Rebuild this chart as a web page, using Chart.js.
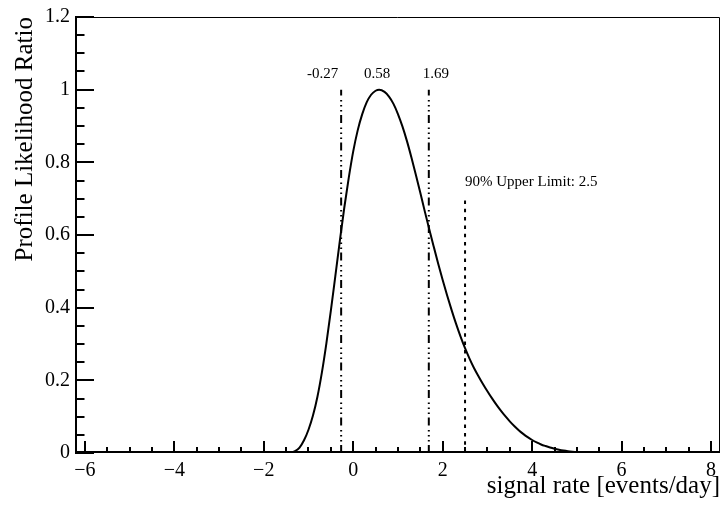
<!DOCTYPE html>
<html>
<head>
<meta charset="utf-8">
<script src="https://cdn.jsdelivr.net/npm/chart.js@4.4.1/dist/chart.umd.min.js"></script>
<style>
  html, body { margin: 0; padding: 0; background: #ffffff; }
  #wrap { width: 723px; height: 506px; }
</style>
</head>
<body>
<div id="wrap"><canvas id="plr" width="723" height="506"></canvas></div>
<script>
// Profile likelihood ratio scan versus signal rate
const signalRate = [
  -6.2, -4.0, -2.0, -1.5, -1.4, -1.3, -1.2, -1.1, -1.0, -0.9,
  -0.8, -0.7, -0.6, -0.5, -0.4, -0.3, -0.2, -0.1, 0.0, 0.1,
  0.2, 0.3, 0.4, 0.5, 0.58, 0.7, 0.8, 0.9, 1.0, 1.1,
  1.2, 1.3, 1.4, 1.5, 1.6, 1.7, 1.8, 1.9, 2.0, 2.1,
  2.2, 2.3, 2.4, 2.5, 2.6, 2.7, 2.8, 2.9, 3.0, 3.1,
  3.2, 3.3, 3.4, 3.5, 3.6, 3.7, 3.8, 3.9, 4.0, 4.1,
  4.2, 4.3, 4.4, 4.5, 4.6, 4.7, 4.8, 4.9, 5.0, 5.5,
  6.0, 6.5, 7.0, 8.2
];
const likelihoodRatio = [
  0, 0, 0, 0, 0.001, 0.005, 0.015, 0.035, 0.064, 0.103,
  0.155, 0.222, 0.302, 0.392, 0.487, 0.583, 0.675, 0.757, 0.830, 0.888,
  0.932, 0.965, 0.986, 0.997, 1.0, 0.994, 0.981, 0.961, 0.933, 0.899,
  0.859, 0.814, 0.766, 0.716, 0.665, 0.616, 0.568, 0.521, 0.476, 0.4335,
  0.3933, 0.3553, 0.3204, 0.2885, 0.2598, 0.2341, 0.2115, 0.1901, 0.1699, 0.1509,
  0.1331, 0.1165, 0.1012, 0.0872, 0.0744, 0.0629, 0.0527, 0.0437, 0.0358, 0.0291,
  0.0235, 0.0191, 0.0152, 0.0119, 0.0091, 0.0068, 0.0050, 0.0037, 0.0027, 0.0005,
  0.0001, 0, 0, 0
];

// Best fit and 1-sigma interval, plus the 90% upper limit
const intervalValues = [-0.27, 0.58, 1.69];
const intervalLabels = ["-0.27", "0.58", "1.69"];
const intervalLineTop = 1.0;
const upperLimitValue = 2.5;
const upperLimitTop = 0.7;
const upperLimitLabel = "90% Upper Limit: 2.5";

// Axes
const xRange = [-6.22, 8.2];
const yRange = [0, 1.2];
const xTickValues = [-6, -4, -2, 0, 2, 4, 6, 8];
const yTickValues = [0, 0.2, 0.4, 0.6, 0.8, 1, 1.2];
const xMinorStep = 0.5;
const yMinorStep = 0.05;
const xTitle = "signal rate [events/day]";
const yTitle = "Profile Likelihood Ratio";

const SERIF = "'Liberation Serif', 'Times New Roman', serif";

const curvePoints = signalRate.map((x, i) => ({ x: x, y: likelihoodRatio[i] }));
const lowerLine = [{ x: intervalValues[0], y: 0 }, { x: intervalValues[0], y: intervalLineTop }];
const upperLine = [{ x: intervalValues[2], y: 0 }, { x: intervalValues[2], y: intervalLineTop }];
const limitLine = [{ x: upperLimitValue, y: 0 }, { x: upperLimitValue, y: upperLimitTop }];

const dashDotDot = [8, 3.5, 1.5, 3.5, 1.5, 3.5, 1.5, 4.5];

function fmtTick(v) {
  const s = String(Math.round(v * 100) / 100);
  return v < 0 ? "\u2212" + s.slice(1) : s;
}

// Frame, inward tick marks and text annotations
const framePlugin = {
  id: "frameAndTicks",
  afterDatasetsDraw(chart) {
    const ctx = chart.ctx;
    const a = chart.chartArea;
    const xs = chart.scales.x, ys = chart.scales.y;
    ctx.save();
    ctx.strokeStyle = "#000";
    ctx.lineCap = "butt";

    // top and right border
    ctx.lineWidth = 1;
    ctx.beginPath();
    ctx.moveTo(a.left, a.top + 0.5);
    ctx.lineTo(a.right - 0.5, a.top + 0.5);
    ctx.lineTo(a.right - 0.5, a.bottom);
    ctx.stroke();

    // left and bottom axis lines
    ctx.lineWidth = 2;
    ctx.beginPath();
    ctx.moveTo(a.left + 1, a.top);
    ctx.lineTo(a.left + 1, a.bottom);
    ctx.moveTo(a.left, a.bottom - 1);
    ctx.lineTo(a.right, a.bottom - 1);
    ctx.stroke();

    // x ticks
    ctx.lineWidth = 2;
    ctx.beginPath();
    const xStart = Math.ceil(xRange[0] / xMinorStep) * xMinorStep;
    for (let k = 0; xStart + k * xMinorStep <= xRange[1] + 1e-9; k++) {
      const v = xStart + k * xMinorStep;
      const major = xTickValues.some(t => Math.abs(t - v) < 1e-6);
      const px = Math.round(xs.getPixelForValue(v));
      ctx.moveTo(px, a.bottom);
      ctx.lineTo(px, a.bottom - (major ? 12 : 6));
    }
    // y ticks
    for (let k = 0; k * yMinorStep <= yRange[1] + 1e-9; k++) {
      const v = yRange[0] + k * yMinorStep;
      const major = yTickValues.some(t => Math.abs(t - v) < 1e-6);
      const py = Math.round(ys.getPixelForValue(v));
      ctx.moveTo(a.left, py);
      ctx.lineTo(a.left + (major ? 19 : 9.5), py);
    }
    ctx.stroke();

    // annotation texts
    ctx.fillStyle = "#000";
    ctx.font = "15px " + SERIF;
    ctx.textBaseline = "alphabetic";
    const labelY = ys.getPixelForValue(intervalLineTop) - 12;
    const aligns = ["right", "center", "left"];
    const shifts = [-3, -2, -6];
    intervalValues.forEach((v, i) => {
      ctx.textAlign = aligns[i];
      ctx.fillText(intervalLabels[i], xs.getPixelForValue(v) + shifts[i], labelY);
    });
    ctx.textAlign = "left";
    ctx.fillText(upperLimitLabel, xs.getPixelForValue(upperLimitValue), ys.getPixelForValue(upperLimitTop) - 13);
    ctx.restore();
  }
};

new Chart(document.getElementById("plr"), {
  type: "line",
  data: {
    datasets: [
      { data: curvePoints, borderColor: "#000", borderWidth: 2, pointRadius: 0,
        cubicInterpolationMode: "monotone", fill: false },
      { data: lowerLine, borderColor: "#000", borderWidth: 2, pointRadius: 0,
        borderDash: dashDotDot, fill: false },
      { data: upperLine, borderColor: "#000", borderWidth: 2, pointRadius: 0,
        borderDash: dashDotDot, fill: false },
      { data: limitLine, borderColor: "#000", borderWidth: 2, pointRadius: 0,
        borderDash: [3.5, 4.8], fill: false }
    ]
  },
  options: {
    responsive: false,
    animation: false,
    devicePixelRatio: 1,
    layout: { padding: { top: 16, right: 3, bottom: 0, left: 0 } },
    plugins: { legend: { display: false }, tooltip: { enabled: false } },
    scales: {
      x: {
        type: "linear",
        min: xRange[0], max: xRange[1],
        grid: { display: false, drawTicks: false },
        border: { display: false },
        afterBuildTicks: s => { s.ticks = xTickValues.map(v => ({ value: v })); },
        afterFit: s => { s.height = 53; },
        ticks: {
          autoSkip: false, maxRotation: 0, padding: 6, color: "#000",
          font: { family: SERIF, size: 20 },
          callback: v => fmtTick(v)
        },
        title: {
          display: true, text: xTitle, align: "end", color: "#000",
          font: { family: SERIF, size: 25 }, padding: { top: 0, bottom: 5 }
        }
      },
      y: {
        type: "linear",
        min: yRange[0], max: yRange[1],
        grid: { display: false, drawTicks: false },
        border: { display: false },
        afterBuildTicks: s => { s.ticks = yTickValues.map(v => ({ value: v })); },
        afterFit: s => { s.width = 75; },
        ticks: {
          autoSkip: false, padding: 5, color: "#000",
          font: { family: SERIF, size: 20 },
          callback: v => fmtTick(v)
        },
        title: {
          display: true, text: yTitle, align: "end", color: "#000",
          font: { family: SERIF, size: 25 }, padding: { top: 10, bottom: 0 }
        }
      }
    }
  },
  plugins: [framePlugin]
});
</script>
</body>
</html>
